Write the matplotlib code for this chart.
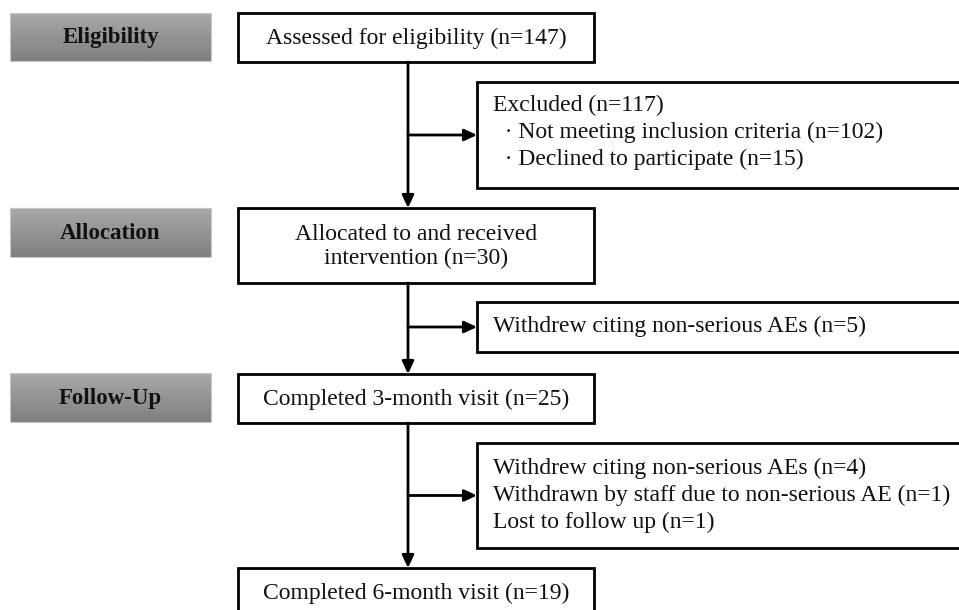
import matplotlib
matplotlib.use("Agg")
import matplotlib.pyplot as plt
import numpy as np
from matplotlib.patches import Rectangle

# ---- content ----
stage_labels = ["Eligibility", "Allocation", "Follow-Up"]
main_texts = [
    "Assessed for eligibility (n=147)",
    "Allocated to and received\nintervention (n=30)",
    "Completed 3-month visit (n=25)",
    "Completed 6-month visit (n=19)",
]
side_texts = [
    ["Excluded (n=117)",
     "  \u00b7 Not meeting inclusion criteria (n=102)",
     "  \u00b7 Declined to participate (n=15)"],
    ["Withdrew citing non-serious AEs (n=5)"],
    ["Withdrew citing non-serious AEs (n=4)",
     "Withdrawn by staff due to non-serious AE (n=1)",
     "Lost to follow up (n=1)"],
]

# ---- layout (pixel coordinates, y downward) ----
W, H = 959, 610
stage_x = (10, 211)
stage_y = [(13, 61), (208, 257), (373, 422)]
main_x = (238, 594)
main_y = [(13, 62), (208, 283), (374, 423), (568, 640)]
side_x = (477, 975)
side_y = [(82, 188), (302, 352), (443, 548)]
side_offsets = [-3, -1, 0]
spine_x = 408

fig = plt.figure(figsize=(W / 100, H / 100), dpi=100)
ax = fig.add_axes([0, 0, 1, 1])

serif = ["Liberation Serif", "DejaVu Serif"]
fs = 17
lw = 2.0

# stage labels with gradient
grad = np.linspace(0.66, 0.50, 64).reshape(-1, 1)
for lab, (y0, y1) in zip(stage_labels, stage_y):
    ax.imshow(grad, cmap="gray", vmin=0, vmax=1, aspect="auto",
              extent=(stage_x[0], stage_x[1], y1, y0), zorder=1,
              interpolation="bilinear")
    ax.add_patch(Rectangle((stage_x[0], y0), stage_x[1] - stage_x[0], y1 - y0,
                           fill=False, ec="#c8c8c8", lw=0.8, zorder=2))
    ax.text((stage_x[0] + stage_x[1]) / 2, (y0 + y1) / 2 + 1, lab,
            ha="center", va="center", fontsize=16.5, fontweight="bold",
            family=serif, color="#111111", zorder=3)
ax.set_xlim(0, W)
ax.set_ylim(H, 0)
ax.axis("off")

# main boxes
for txt, (y0, y1) in zip(main_texts, main_y):
    ax.add_patch(Rectangle((main_x[0], y0), main_x[1] - main_x[0], y1 - y0,
                           fill=True, fc="white", ec="black", lw=lw, zorder=2))
    yc = (y0 + y1) / 2 + 1 if y1 < H else y0 + 25
    ax.text((main_x[0] + main_x[1]) / 2, yc, txt, ha="center", va="center",
            fontsize=fs, family=serif, color="#111111", linespacing=1.12,
            zorder=3)

# side boxes
for lines, (y0, y1), off in zip(side_texts, side_y, side_offsets):
    ax.add_patch(Rectangle((side_x[0], y0), side_x[1] - side_x[0], y1 - y0,
                           fill=True, fc="white", ec="black", lw=lw, zorder=2,
                           clip_on=True))
    n = len(lines)
    yc = (y0 + y1) / 2 + off
    step = 27
    for i, ln in enumerate(lines):
        yy = yc + (i - (n - 1) / 2) * step
        ax.text(side_x[0] + 16, yy, ln, ha="left", va="center",
                fontsize=fs, family=serif, color="#111111", zorder=3)

# vertical connectors with arrowheads
aprops = dict(arrowstyle="-|>,head_length=0.75,head_width=0.35",
              color="black", lw=lw, shrinkA=0, shrinkB=0)
for k in range(3):
    ax.annotate("", xy=(spine_x, main_y[k + 1][0]), xytext=(spine_x, main_y[k][1]),
                arrowprops=aprops, zorder=4)
# horizontal arrows to side boxes
for (y0, y1) in side_y:
    yc = (y0 + y1) / 2
    ax.annotate("", xy=(side_x[0], yc), xytext=(spine_x, yc),
                arrowprops=aprops, zorder=4)

fig.savefig("out.png", dpi=100, facecolor="white")
